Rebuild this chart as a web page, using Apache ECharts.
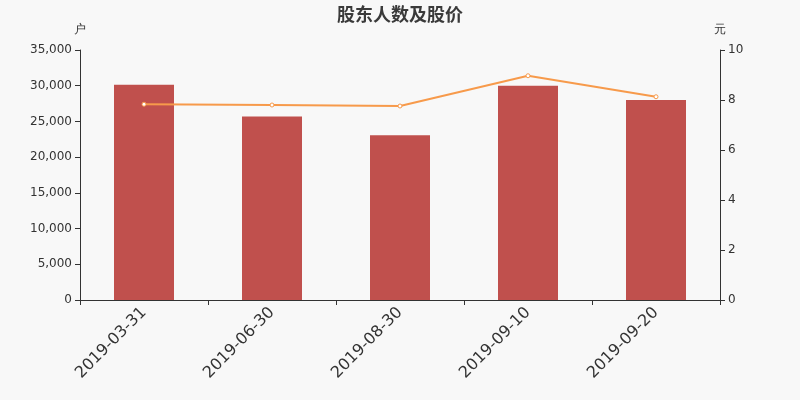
<!DOCTYPE html>
<html>
<head>
<meta charset="utf-8">
<script src="https://cdn.jsdelivr.net/npm/echarts@6/dist/echarts.min.js"></script>
<style>
  html, body { margin: 0; padding: 0; background: #f8f8f8; }
  #main { width: 800px; height: 400px; }
</style>
</head>
<body>
<div id="main"></div>
<script>
  // 数据
  var dates = ['2019-03-31', '2019-06-30', '2019-08-30', '2019-09-10', '2019-09-20'];
  var holders = [30150, 25700, 23050, 30000, 28000];
  var prices = [7.83, 7.80, 7.76, 8.97, 8.13];

  var myChart = echarts.init(document.getElementById('main'));

  var axisLine = { show: true, lineStyle: { color: '#333' } };

  var option = {
    backgroundColor: '#f8f8f8',
    animation: false,
    textStyle: { fontFamily: 'DejaVu Sans' },
    title: {
      text: '股东人数及股价',
      left: 'center',
      top: 0,
      textStyle: { fontSize: 18, fontWeight: 'bold', color: '#3a3a3a', fontFamily: 'Noto Sans CJK SC' }
    },
    grid: { left: 80, right: 80, top: 50, bottom: 100 },
    xAxis: {
      type: 'category',
      data: dates,
      axisLine: axisLine,
      axisTick: { show: true },
      axisLabel: { rotate: 45, fontSize: 16, color: '#333', margin: 10, fontFamily: 'DejaVu Sans' }
    },
    yAxis: [{
      type: 'value',
      name: '户',
      min: 0,
      max: 35000,
      interval: 5000,
      nameGap: 14,
      nameTextStyle: { color: '#333', align: 'center' },
      axisLine: axisLine,
      axisTick: { show: true },
      splitLine: { show: false },
      axisLabel: {
        color: '#333',
        fontSize: 12,
        fontFamily: 'DejaVu Sans',
        formatter: function (v) { return v.toLocaleString('en-US'); }
      }
    }, {
      type: 'value',
      name: '元',
      min: 0,
      max: 10,
      interval: 2,
      nameGap: 14,
      nameTextStyle: { color: '#333', align: 'center' },
      axisLine: axisLine,
      axisTick: { show: true },
      splitLine: { show: false },
      axisLabel: { color: '#333', fontSize: 12, fontFamily: 'DejaVu Sans' }
    }],
    series: [{
      name: '股东人数',
      type: 'bar',
      barWidth: 60,
      data: holders,
      itemStyle: { color: '#c0504d' }
    }, {
      name: '股价',
      type: 'line',
      yAxisIndex: 1,
      data: prices,
      symbol: 'circle',
      symbolSize: 4,
      itemStyle: { color: '#fff', borderColor: '#f79a4b', borderWidth: 1 },
      lineStyle: { color: '#f79a4b', width: 2 }
    }]
  };

  myChart.setOption(option);
</script>
</body>
</html>
